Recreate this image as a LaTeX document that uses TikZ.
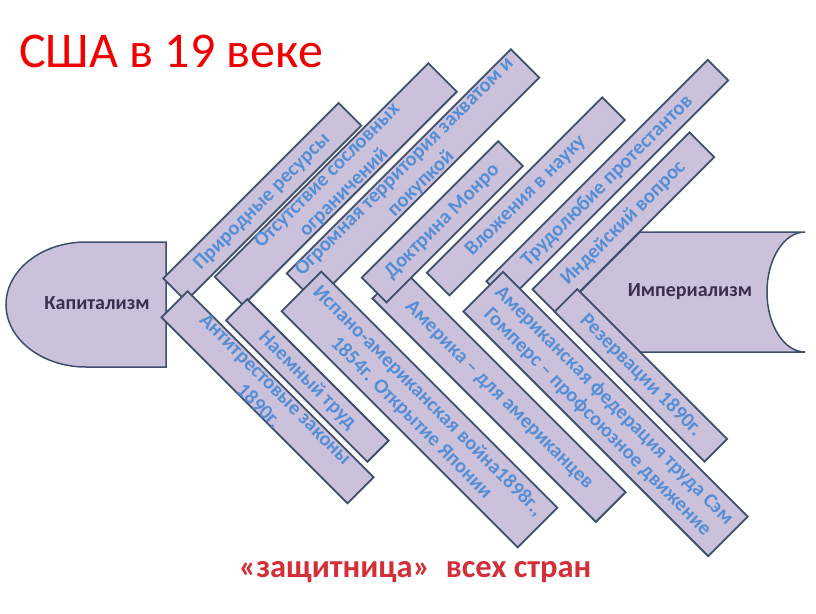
\documentclass[tikz,border=0pt]{standalone}
\usepackage{fontspec}
\setmainfont{Carlito}
\definecolor{boxfill}{HTML}{CCC1DA}
\definecolor{boxline}{HTML}{3E4E6C}
\definecolor{boxtext}{HTML}{558ED5}
\definecolor{headtext}{HTML}{3C2D4F}
\definecolor{titlered}{HTML}{F00000}
\definecolor{wordred}{HTML}{D42F38}
\tikzset{
  bone/.style={draw=boxline, line width=1.8pt, fill=boxfill, text=boxtext,
    font=\bfseries\fontsize{20.5}{23.5}\selectfont, align=center, inner sep=0pt},
  upbone/.style={bone, rotate=45},
  downbone/.style={bone, rotate=-45},
  endshape/.style={draw=boxline, line width=1.5pt, fill=boxfill},
  endtext/.style={text=headtext, font=\bfseries\fontsize{20}{24}\selectfont}
}
\begin{document}
\begin{tikzpicture}[x=1pt,y=-1pt]
\useasboundingbox (0,0) rectangle (816,613);
% tail and head
\draw[endshape] (580,292) -- (640,232) -- (805,232)
  arc[start angle=270, end angle=90, x radius=38, y radius=60]
  -- (640,352) -- cycle;
\draw[endshape] (166,242) -- (86,242)
  arc[start angle=270, end angle=90, x radius=80, y radius=62.5]
  -- (166,367) -- cycle;
\node[endtext] (kap) at (97,303) {Капитализм};
\node[endtext] (imp) at (690,292) {Империализм};
% lower bone below upper ones
\node[downbone, minimum width=316pt, minimum height=42pt] (bD) at (499,395.3) {Америка – для американцев};
% upper bones
\node[upbone, minimum width=248pt, minimum height=32pt] (b1) at (262.3,202) {Природные ресурсы};
\node[upbone, minimum width=302pt, minimum height=38pt] (b2) at (335.8,184.3) {Отсутствие сословных\\ограничений};
\node[upbone, minimum width=317pt, minimum height=40pt] (b3) at (413,175.5) {Огромная территория захватом и\\покупкой};
\node[upbone, minimum width=193pt, minimum height=35pt] (b4) at (442.3,221.8) {Доктрина Монро};
\node[upbone, minimum width=248pt, minimum height=32pt] (b5) at (525.9,196.4) {Вложения в науку};
\node[upbone, minimum width=313pt, minimum height=29pt] (b6) at (607.3,180.8) {Трудолюбие протестантов};
\node[upbone, minimum width=222pt, minimum height=35pt] (b7) at (623.4,223.2) {Индейский вопрос};
% lower bones
\node[downbone, minimum width=263pt, minimum height=33pt] (bA) at (267.5,397.3) {Антитрестовые законы\\1890г.};
\node[downbone, minimum width=200pt, minimum height=30pt] (bB) at (307.3,380.5) {Наемный труд};
\node[downbone, minimum width=334pt, minimum height=56pt] (bC) at (419.5,409.5) {Испано-американская война1898г.,\\1854г. Открытие Японии};
\node[downbone, minimum width=346pt, minimum height=56pt] (bE) at (605.6,414) {Американская федерация труда Сэм\\Гомперс – профсоюзное движение};
\node[downbone, minimum width=212pt, minimum height=32pt] (bF) at (640.9,375.4) {Резервации 1890г.};
% title
\node[anchor=base west, text=titlered, font=\fontsize{50}{58}\selectfont, inner sep=0pt] (title) at (19,67) {США в 19 веке};
% bottom word art
\node[text=wordred, font=\bfseries\fontsize{32.5}{40}\selectfont, inner sep=0pt] (slogan) at (415,572) {«защитница»\hspace{0.25em} всех стран};
\end{tikzpicture}
\end{document}
